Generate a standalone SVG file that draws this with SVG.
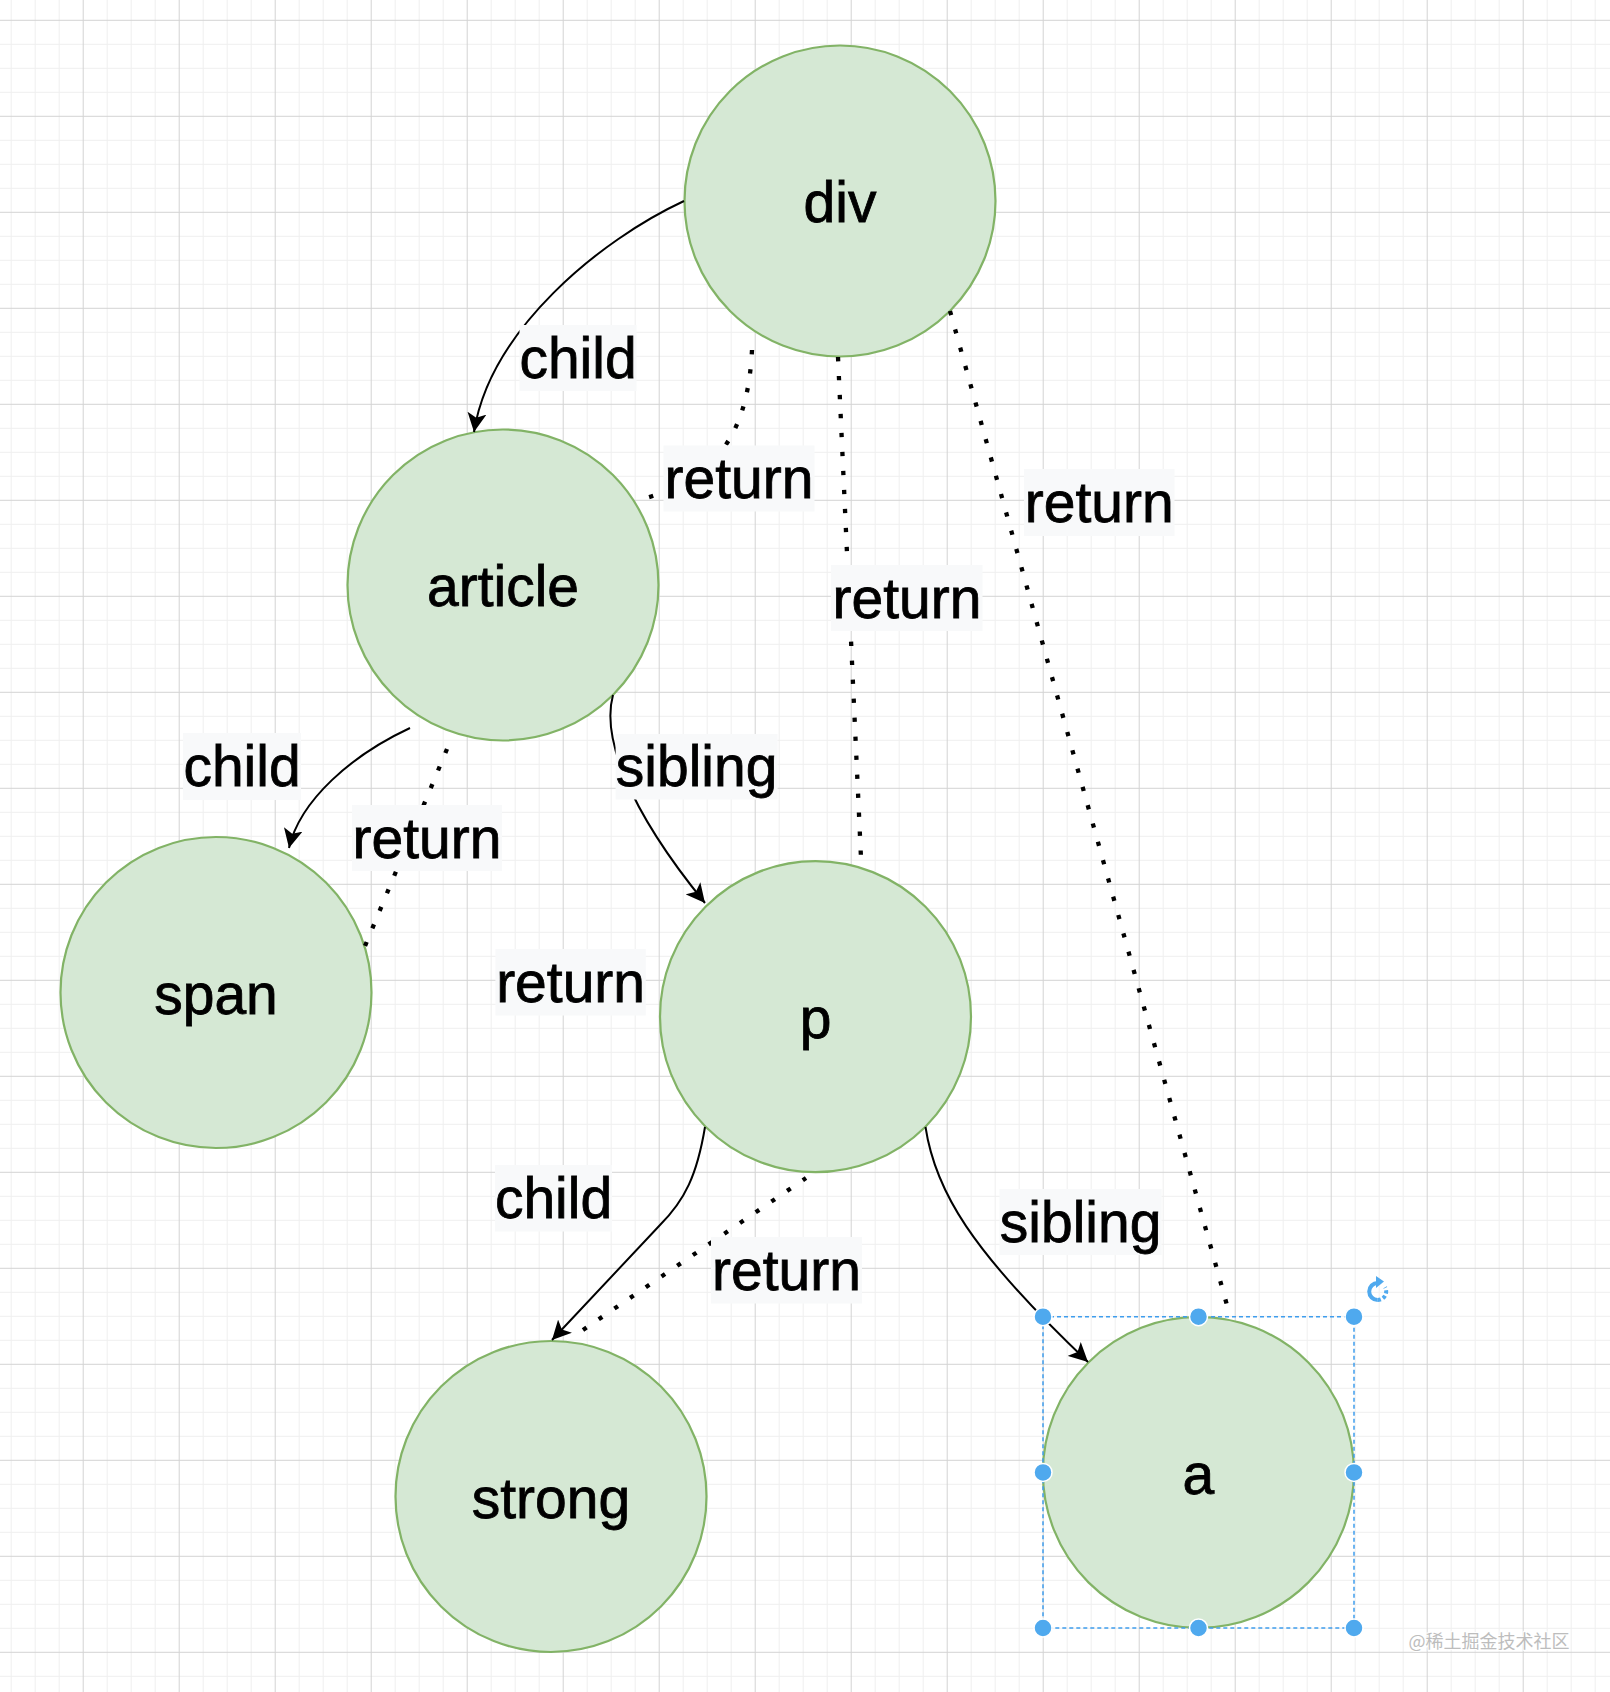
<svg xmlns="http://www.w3.org/2000/svg" width="1610" height="1692" viewBox="0 0 1610 1692">
<style>
.node{fill:#d5e8d4;stroke:#82b366;stroke-width:2.2}
.ntext{font-family:"Liberation Sans",Arial,Helvetica,sans-serif;font-size:57px;fill:#000;stroke:#000;stroke-width:0.8;text-anchor:middle}
.edge{fill:none;stroke:#000;stroke-width:2}
.ret{fill:none;stroke:#000;stroke-width:4.3;stroke-dasharray:4.3 14.7}
.lbg{fill:#f8f9fa}
.ltext{font-family:"Liberation Sans",Arial,Helvetica,sans-serif;font-size:57px;fill:#000;stroke:#000;stroke-width:0.8;text-anchor:middle}
.handle{fill:#4fa9ee;stroke:#fff;stroke-width:1.5}
</style>
<defs>
<pattern id="grid" x="82.7" y="19.8" width="96" height="96" patternUnits="userSpaceOnUse">
<path d="M24.5 0V96M48.5 0V96M72.5 0V96M0 24.5H96M0 48.5H96M0 72.5H96" stroke="#efefef" stroke-width="1" fill="none"/>
<path d="M0.5 0V96M0 0.5H96" stroke="#d3d3d3" stroke-width="1" fill="none"/>
</pattern>
<marker id="arrow" viewBox="0 0 19 19" refX="19" refY="9.5" markerWidth="19" markerHeight="19" markerUnits="userSpaceOnUse" orient="auto">
<path d="M0,0 L19,9.5 L0,19 L4.5,9.5 Z" fill="#000"/>
</marker>
</defs>
<rect x="0" y="0" width="1610" height="1692" fill="#fff"/>
<rect x="0" y="0" width="1610" height="1692" fill="url(#grid)"/>

<g id="node-div"><circle class="node" cx="840" cy="201" r="155.5"/><text class="ntext" x="840" y="222">div</text></g>
<g id="node-article"><circle class="node" cx="503" cy="585" r="155.5"/><text class="ntext" x="503" y="606">article</text></g>
<g id="node-span"><circle class="node" cx="216" cy="992.5" r="155.5"/><text class="ntext" x="216" y="1013.5">span</text></g>
<g id="node-p"><circle class="node" cx="815.5" cy="1016.7" r="155.5"/><text class="ntext" x="815.5" y="1037.7">p</text></g>
<g id="node-strong"><circle class="node" cx="551" cy="1496.5" r="155.5"/><text class="ntext" x="551" y="1517.5">strong</text></g>
<g id="node-a"><circle class="node" cx="1198.4" cy="1472.4" r="155.5"/><text class="ntext" x="1198.4" y="1494">a</text></g>

<g id="connectors">
<path id="e-div-article-child" class="edge" d="M684,201 C600,240 490,330 474,432" marker-end="url(#arrow)"/>
<path id="e-article-span-child" class="edge" d="M410,728 C352,755 300,800 289,848" marker-end="url(#arrow)"/>
<path id="e-article-p-sibling" class="edge" d="M613,695 C602,735 625,805 705,903" marker-end="url(#arrow)"/>
<path id="e-p-strong-child" class="edge" d="M705,1127 C697,1175 685,1200 660,1225 L552,1340" marker-end="url(#arrow)"/>
<path id="e-p-a-sibling" class="edge" d="M925.5,1127 C935,1190 970,1250 1088,1362" marker-end="url(#arrow)"/>
<path id="e-article-div-return" class="ret" d="M752,350 C748,430 720,480 635,501"/>
<path id="e-p-div-return" class="ret" d="M838,357 L861,858"/>
<path id="e-a-div-return" class="ret" d="M950,311 L1230,1316"/>
<path id="e-span-article-return" class="ret" d="M447,749 L365,946"/>
<path id="e-strong-p-return" class="ret" d="M583,1330 L806,1178"/>
</g>

<g id="labels">
<g><rect class="lbg" x="519.5" y="325" width="117" height="66"/><text class="ltext" x="578" y="378">child</text></g>
<g><rect class="lbg" x="663.5" y="445.5" width="151" height="66"/><text class="ltext" x="739" y="498">return</text></g>
<g><rect class="lbg" x="831" y="565" width="151.5" height="66"/><text class="ltext" x="907" y="618">return</text></g>
<g><rect class="lbg" x="1024" y="469" width="150.5" height="67"/><text class="ltext" x="1099.3" y="522">return</text></g>
<g><rect class="lbg" x="183" y="733" width="118" height="67"/><text class="ltext" x="242" y="786">child</text></g>
<g><rect class="lbg" x="352" y="805" width="150" height="66"/><text class="ltext" x="427" y="858">return</text></g>
<g><rect class="lbg" x="615.6" y="734" width="162" height="65.5"/><text class="ltext" x="696.6" y="786">sibling</text></g>
<g><rect class="lbg" x="495.4" y="949" width="150.4" height="66.5"/><text class="ltext" x="570.6" y="1002">return</text></g>
<g><rect class="lbg" x="495" y="1165" width="117" height="66.5"/><text class="ltext" x="553.5" y="1218">child</text></g>
<g><rect class="lbg" x="711" y="1237" width="151" height="66.5"/><text class="ltext" x="786.5" y="1290">return</text></g>
<g><rect class="lbg" x="999.5" y="1189" width="162.2" height="66"/><text class="ltext" x="1080.6" y="1242">sibling</text></g>
</g>

<g id="selection">
<rect x="1043" y="1316.7" width="311" height="311.3" fill="none" stroke="#3f9ded" stroke-width="1.5" stroke-dasharray="4 3"/>
<circle class="handle" cx="1043" cy="1316.7" r="9"/>
<circle class="handle" cx="1198.5" cy="1316.7" r="9"/>
<circle class="handle" cx="1354" cy="1316.7" r="9"/>
<circle class="handle" cx="1043" cy="1472.4" r="9"/>
<circle class="handle" cx="1354" cy="1472.4" r="9"/>
<circle class="handle" cx="1043" cy="1628" r="9"/>
<circle class="handle" cx="1198.5" cy="1628" r="9"/>
<circle class="handle" cx="1354" cy="1628" r="9"/>
<path d="M1377.7,1283 A8.5,8.5 0 0 0 1377.7,1300" fill="none" stroke="#4fa9ee" stroke-width="4"/>
<path d="M1377.7,1300 A8.5,8.5 0 0 0 1385.1,1287.3" fill="none" stroke="#4fa9ee" stroke-width="4" stroke-dasharray="3.2 2.4"/>
<path d="M1376,1276 L1384,1281.5 L1376,1288 Z" fill="#4fa9ee"/>
</g>

<text x="1408.5" y="1648" font-family="'Noto Sans CJK SC','Liberation Sans',sans-serif" font-size="18" fill="#bdbdbd" stroke="#ffffff" stroke-width="2" paint-order="stroke">@稀土掘金技术社区</text>
</svg>
